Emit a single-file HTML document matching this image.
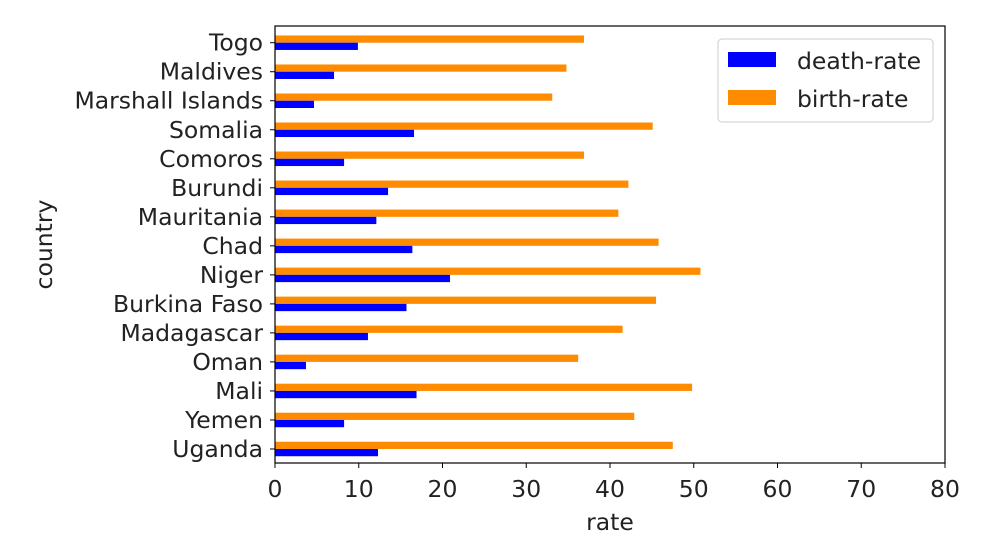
<!DOCTYPE html>
<html><head><meta charset="utf-8"><style>
body{margin:0;background:#fff;font-family:"Liberation Sans","DejaVu Sans",sans-serif;}
</style></head><body>
<svg width="1006" height="554" id="chart" font-family="'DejaVu Sans','Liberation Sans',sans-serif"></svg>
<script>
const countries=["Togo","Maldives","Marshall Islands","Somalia","Comoros","Burundi","Mauritania","Chad","Niger","Burkina Faso","Madagascar","Oman","Mali","Yemen","Uganda"];
const deathRate=[9.9,7.05,4.66,16.6,8.25,13.5,12.1,16.4,20.9,15.7,11.1,3.7,16.9,8.25,12.3];
const birthRate=[36.9,34.8,33.1,45.1,36.9,42.2,41.0,45.8,50.8,45.5,41.5,36.2,49.8,42.9,47.5];
const xTicks=[0,10,20,30,40,50,60,70,80];
const NS="http://www.w3.org/2000/svg";
const svg=document.getElementById('chart');
const L=275,R=945,T=26,B=463,xmax=80;
const xs=v=>L+(R-L)*v/xmax;
const band=29.02;
const yc=i=>42.7+band*i;
function mk(t,a,p){const e=document.createElementNS(NS,t);for(const k in a)e.setAttribute(k,a[k]);(p||svg).appendChild(e);return e;}
const bh=band*0.25;
const FS=23.5;
countries.forEach((c,i)=>{
  const b=mk('rect',{x:L,y:yc(i)-bh,width:xs(birthRate[i])-L,height:bh,fill:'#ff8c00'});
  
  
  const d=mk('rect',{x:L,y:yc(i),width:xs(deathRate[i])-L,height:bh,fill:'#0000ff'});
  
  
  mk('line',{x1:L-5,x2:L,y1:yc(i),y2:yc(i),stroke:'#000','stroke-width':1});
  const t=mk('text',{x:L-12,y:yc(i)+8,'text-anchor':'end','font-size':FS,fill:'#222'});
  t.textContent=c;
  
  
});
const frame=mk('rect',{x:L,y:T,width:R-L,height:B-T,fill:'none',stroke:'#000','stroke-width':1.2});


xTicks.forEach(v=>{
  mk('line',{x1:xs(v),x2:xs(v),y1:B,y2:B+5,stroke:'#000','stroke-width':1});
  const t=mk('text',{x:xs(v),y:497,'text-anchor':'middle','font-size':FS,fill:'#222'});
  t.textContent=v;
  
  
});
const xt=mk('text',{x:(L+R)/2,y:530,'text-anchor':'middle','font-size':FS,fill:'#222'});
xt.textContent='rate';


const yt=mk('text',{x:0,y:0,'text-anchor':'middle','font-size':FS,fill:'#222',transform:'translate(52,'+((T+B)/2)+') rotate(-90)'});
yt.textContent='country';


const lg=mk('g',{});


mk('rect',{x:718,y:39,width:215,height:83,rx:4,fill:'#fff',stroke:'#ccc','stroke-width':1},lg);
mk('rect',{x:728,y:52,width:48,height:15,fill:'#0000ff'},lg);
mk('rect',{x:728,y:90,width:48,height:15,fill:'#ff8c00'},lg);
const l1=mk('text',{x:797,y:69,'font-size':FS,fill:'#222'},lg);l1.textContent='death-rate';


const l2=mk('text',{x:797,y:107,'font-size':FS,fill:'#222'},lg);l2.textContent='birth-rate';


</script>
</body></html>
